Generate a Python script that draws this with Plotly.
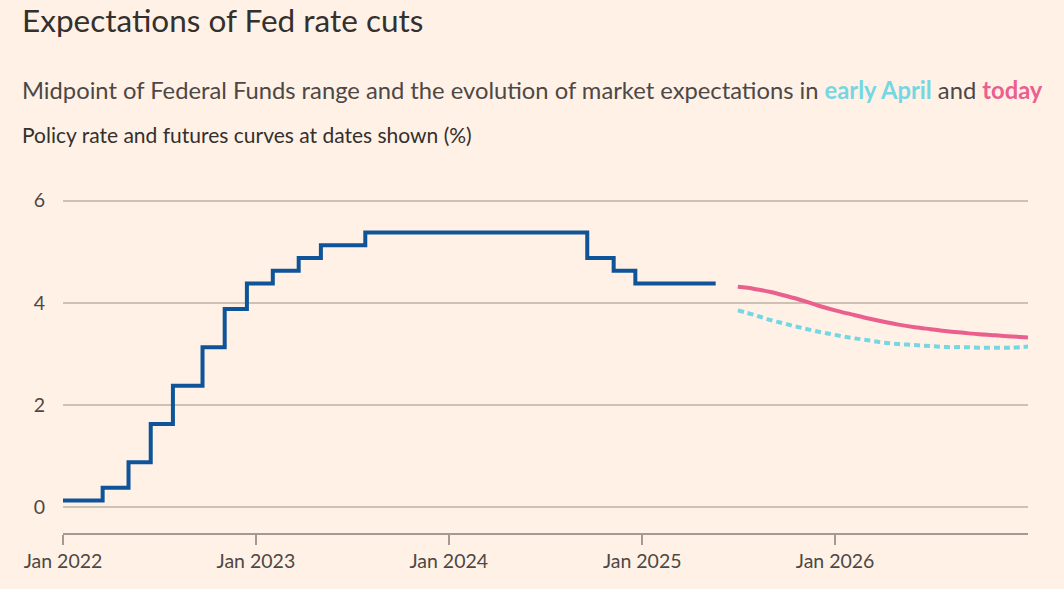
import plotly.graph_objects as go

# Policy rate (midpoint of Fed Funds range), step changes
rate_dates = ["2022-01-01", "2022-03-17", "2022-05-05", "2022-06-16", "2022-07-28",
              "2022-09-22", "2022-11-03", "2022-12-15", "2023-02-02", "2023-03-23",
              "2023-05-04", "2023-07-27", "2024-09-19", "2024-11-08", "2024-12-19",
              "2025-05-20"]
rates = [0.125, 0.375, 0.875, 1.625, 2.375, 3.125, 3.875, 4.375, 4.625, 4.875,
         5.125, 5.375, 4.875, 4.625, 4.375, 4.375]

# Futures curves
fut_dates = ["2025-07-01", "2025-08-01", "2025-09-01", "2025-10-01", "2025-11-01",
             "2025-12-01", "2026-01-01", "2026-02-01", "2026-03-01", "2026-04-01",
             "2026-05-01", "2026-06-01", "2026-07-01", "2026-08-01", "2026-09-01",
             "2026-10-01", "2026-11-01", "2026-12-01", "2027-01-01"]
today = [4.31, 4.27, 4.21, 4.13, 4.04, 3.94, 3.85, 3.77, 3.70, 3.63,
         3.57, 3.52, 3.48, 3.44, 3.41, 3.38, 3.36, 3.34, 3.32]
early_april = [3.85, 3.76, 3.66, 3.58, 3.50, 3.43, 3.37, 3.31, 3.27, 3.22,
               3.19, 3.17, 3.15, 3.13, 3.13, 3.12, 3.12, 3.12, 3.14]

x_ticks = ["2022-01-01", "2023-01-01", "2024-01-01", "2025-01-01", "2026-01-01"]
x_tick_labels = ["Jan 2022", "Jan 2023", "Jan 2024", "Jan 2025", "Jan 2026"]
y_ticks = [0, 2, 4, 6]

BG = "#fff1e5"
BLUE = "#0f5499"
PINK = "#eb5f8e"
TEAL = "#75d7e3"
TEXT = "#33302e"
SUB = "#4d4845"
FONT = "Lato"

fig = go.Figure()
fig.add_trace(go.Scatter(x=rate_dates, y=rates, mode="lines", line_shape="hv",
                         line=dict(color=BLUE, width=4), hoverinfo="skip"))
fig.add_trace(go.Scatter(x=fut_dates, y=early_april, mode="lines", line_shape="spline",
                         line=dict(color=TEAL, width=4, dash="6px,4px"), hoverinfo="skip"))
fig.add_trace(go.Scatter(x=fut_dates, y=today, mode="lines", line_shape="spline",
                         line=dict(color=PINK, width=4), hoverinfo="skip"))

W, H = 1064, 589
plot_top, plot_bottom = 198.45, 533
plot_h = plot_bottom - plot_top
plot_left, plot_right = 63, 1028
plot_w = plot_right - plot_left

def py(p):
    return (plot_bottom - p) / plot_h

def px(p):
    return (p - plot_left) / plot_w

annotations = [
    dict(text="Expectations of Fed rate cuts", x=px(19.5), y=py(21),
         font=dict(size=31.5, color=TEXT, family=FONT)),
    dict(text="Midpoint of Federal Funds range and the evolution of market expectations in "
              f"<b><span style='color:{TEAL}'>early April</span></b> and "
              f"<b><span style='color:{PINK}'>today</span></b>",
         x=px(19.5), y=py(91), font=dict(size=23.75, color=SUB, family=FONT)),
    dict(text="Policy rate and futures curves at dates shown (%)", x=px(20), y=py(135),
         font=dict(size=21, color=TEXT, family=FONT)),
]
for a in annotations:
    a.update(xref="paper", yref="paper", xanchor="left", yanchor="middle",
             showarrow=False, align="left")

fig.update_layout(
    width=W, height=H,
    paper_bgcolor=BG, plot_bgcolor=BG,
    margin=dict(l=plot_left, r=W - plot_right, t=plot_top, b=H - plot_bottom, autoexpand=False),
    showlegend=False,
    annotations=annotations,
    font=dict(family=FONT, color=SUB, size=19.5),
)
fig.update_xaxes(
    type="date", range=["2022-01-01", "2027-01-01"],
    tickvals=x_ticks, ticktext=x_tick_labels,
    showgrid=False, zeroline=False,
    showline=True, linecolor="#a59a92", linewidth=2,
    ticks="outside", ticklen=10, tickwidth=2, tickcolor="#a59a92",
    tickfont=dict(size=19.5, color=SUB, family=FONT),
)
fig.update_yaxes(
    range=[-0.51, 6.05], tickvals=y_ticks,
    showgrid=True, gridcolor="#cdc0b5", gridwidth=2,
    zeroline=False, showline=False, ticks="",
    ticklabelstandoff=17,
    tickfont=dict(size=19.5, color=SUB, family=FONT),
)

fig.write_html(
    "out.html",
    config={"displayModeBar": False},
    post_script="document.body.style.margin='0';document.body.style.background='#fff1e5';",
)
